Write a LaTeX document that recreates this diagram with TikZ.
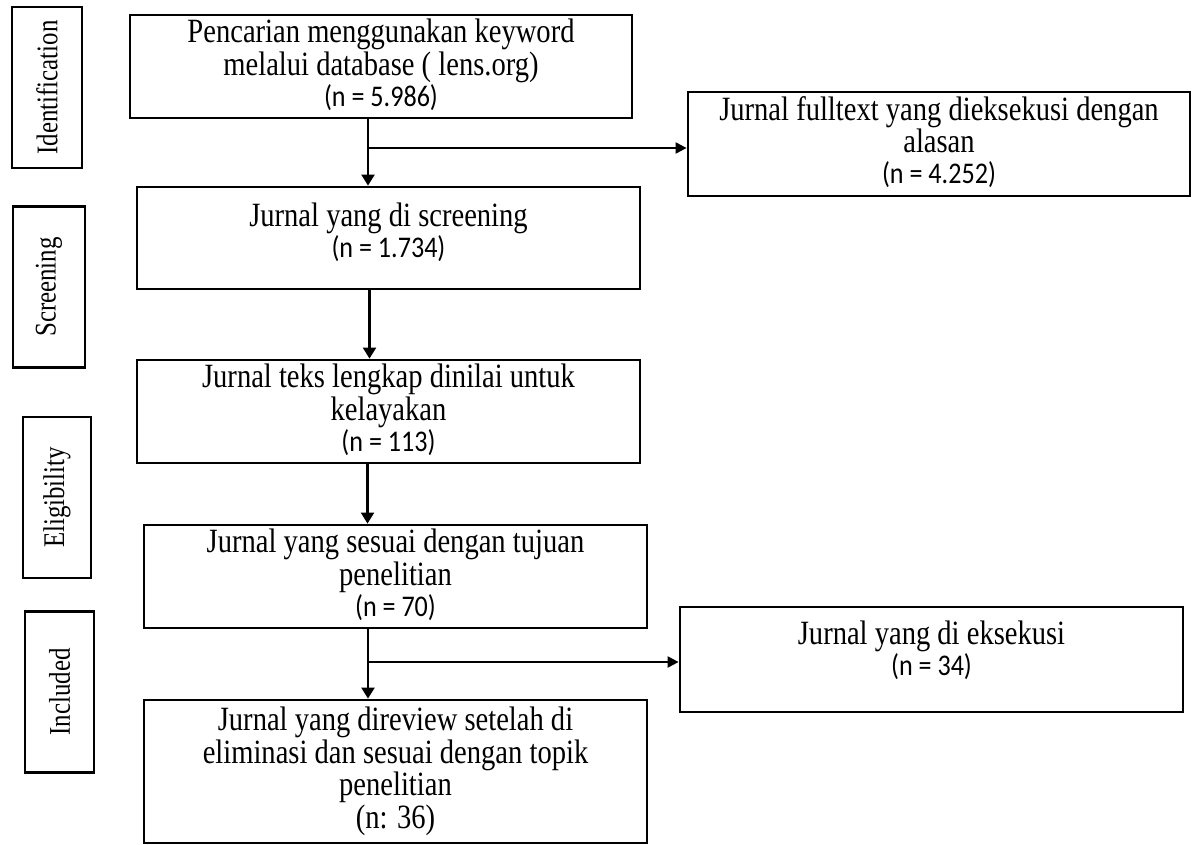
\documentclass[tikz,border=0pt]{standalone}
\usepackage{fontspec}
\setmainfont{Liberation Serif}
\newfontfamily\calfont{Carlito}[FakeStretch=0.87]
\newfontfamily\boxfont{Liberation Serif}[FakeStretch=0.84]
\newfontfamily\phasefont{Liberation Serif}[FakeStretch=0.83]
\newcommand{\nval}[1]{{\calfont\fontsize{30}{31}\selectfont #1}}
% line strut: every line of a box gets the same height and depth
\newcommand{\lstrut}{\rule[-8pt]{0pt}{31pt}}
\usepackage{tikz}
\usetikzlibrary{calc,arrows.meta,positioning}

\begin{document}
\begin{tikzpicture}
[	x=1pt, y=-1pt,
	flowbox/.style={draw, line width=2.8pt, align=center, inner sep=0pt,
		minimum width=503pt, minimum height=103pt,
		font=\boxfont\fontsize{34}{31}\selectfont},
	phase/.style={draw, line width=2.8pt, rotate=90, inner sep=0pt,
		minimum width=161pt, minimum height=70pt,
		font=\phasefont\fontsize{30}{31}\selectfont},
	flow/.style={line width=2.2pt, -{Triangle[length=11pt,width=13pt]}},
	branch/.style={line width=2.2pt, -{Triangle[length=11pt,width=11pt]}}
]
\useasboundingbox (0,0) rectangle (1201,845);

% phases on the left
\node(identification)[phase] at (47,87.5){Identification};
\node(screening)[phase, minimum height=72pt] at (49,287){Screening};
\node(eligibility)[phase, minimum height=68pt] at (57,497.5){Eligibility};
\node(included)[phase, minimum height=69pt] at (59.5,692){Included};

% main column
\node(search)[flowbox, minimum width=502pt] at (381,66.5)
	{\lstrut Pencarian menggunakan keyword\\ \lstrut melalui database ( lens.org)\\ \lstrut\nval{(n = 5.986)}};
\node(screened)[flowbox, minimum height=102pt] at (388.5,238)
	{\lstrut Jurnal yang di screening\\ \lstrut\nval{(n = 1.734)}\\[-15pt]\mbox{}};
\node(fulltext)[flowbox] at (388.5,411.5)
	{\lstrut Jurnal teks lengkap dinilai untuk\\ \lstrut kelayakan\\ \lstrut\nval{(n = 113)}};
\node(relevant)[flowbox] at (395.5,576.5)
	{\lstrut Jurnal yang sesuai dengan tujuan\\ \lstrut penelitian\\ \lstrut\nval{(n = 70)}};
\node(reviewed)[flowbox, minimum height=143pt] at (395.5,771.5)
	{\lstrut Jurnal yang direview setelah di\\ \lstrut eliminasi dan sesuai dengan topik\\ \lstrut penelitian\\ \lstrut (n: 36)};

% excluded boxes on the right
\node(excluded1)[flowbox, minimum width=502pt, minimum height=104pt] at (939,144)
	{\lstrut Jurnal fulltext yang dieksekusi dengan\\ \lstrut alasan\\ \lstrut\nval{(n = 4.252)}};
\node(excluded2)[flowbox, minimum height=105pt] at (931.5,659.5)
	{\lstrut Jurnal yang di eksekusi\\ \lstrut\nval{(n = 34)}\\[-9pt]\mbox{}};

% split points
\coordinate(split1) at (368,148);
\coordinate(split2) at (368,662);

% arrows
\draw[flow](search.south -| split1)--(split1 |- screened.north);
\draw[branch](split1)--(split1 -| excluded1.west);
\draw[flow]($(screened.south)+(-19,0)$)--($(fulltext.north)+(-19,0)$);
\draw[flow]($(fulltext.south)+(-21,0)$)--($(relevant.north)+(-28,0)$);
\draw[flow](relevant.south -| split2)--(split2 |- reviewed.north);
\draw[branch](split2)--(split2 -| excluded2.west);

\end{tikzpicture}
\end{document}
